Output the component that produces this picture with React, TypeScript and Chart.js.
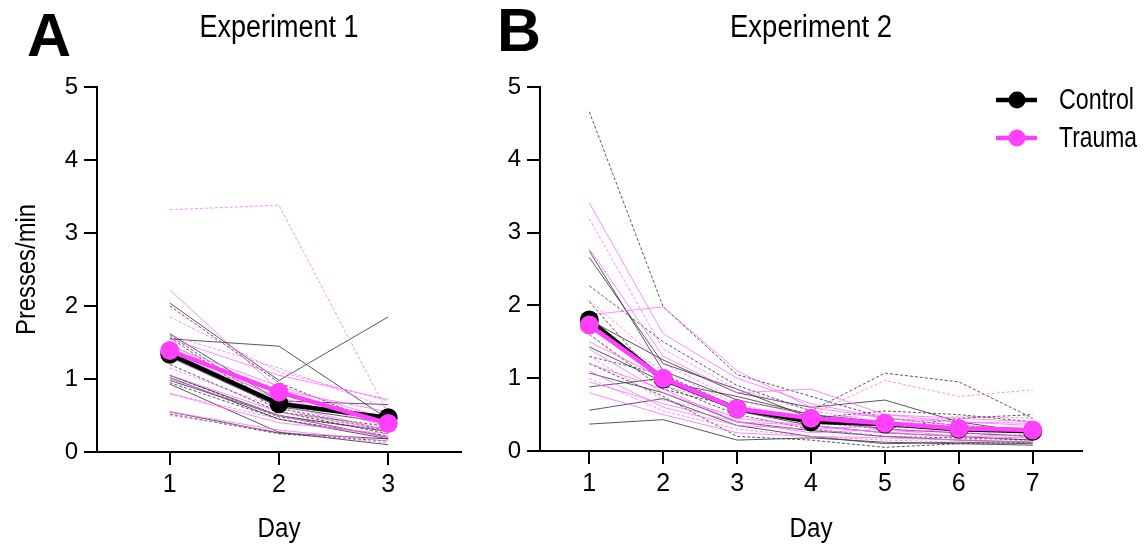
import React, { useEffect, useRef } from "react";
import { Chart, registerables } from "chart.js";
Chart.register(...registerables);

const FONT = "'Liberation Sans', Arial, sans-serif";

// ---------- Data ----------
const days1 = [1, 2, 3];
const days2 = [1, 2, 3, 4, 5, 6, 7];
const yTicks = [0, 1, 2, 3, 4, 5];

const exp1ControlMean = [1.34, 0.66, 0.47];
const exp1TraumaMean = [1.39, 0.82, 0.39];
const exp2ControlMean = [1.8, 0.99, 0.58, 0.4, 0.37, 0.3, 0.27];
const exp2TraumaMean = [1.73, 1.0, 0.58, 0.45, 0.38, 0.31, 0.29];

const exp1ControlSolid = [
  [1.55, 1.45, 0.45],
  [2.04, 0.98, 1.85],
  [1.62, 0.7, 0.65],
  [1.05, 0.5, 0.2],
  [1.02, 0.45, 0.18],
  [0.93, 0.27, 0.1],
  [0.55, 0.26, 0.18],
  [1.3, 0.62, 0.4],
  [0.98, 0.5, 0.28],
];
const exp1ControlDashed = [
  [2.0, 0.95, 0.35],
  [1.6, 0.6, 0.3],
  [1.57, 0.55, 0.25],
  [1.05, 0.48, 0.3],
  [0.95, 0.45, 0.22],
  [0.52, 0.25, 0.15],
  [1.2, 0.55, 0.35],
];
const exp1TraumaSolid = [
  [2.22, 0.85, 0.55],
  [1.55, 1.05, 0.72],
  [1.45, 0.9, 0.45],
  [1.35, 0.75, 0.35],
  [1.3, 0.65, 0.3],
  [1.05, 0.55, 0.3],
  [1.0, 0.5, 0.2],
  [0.8, 0.4, 0.25],
  [0.55, 0.3, 0.15],
  [1.48, 0.7, 0.45],
];
const exp1TraumaDashed = [
  [3.32, 3.38, 0.53],
  [1.85, 1.1, 0.7],
  [1.6, 1.15, 0.6],
  [1.4, 0.8, 0.4],
  [1.15, 0.6, 0.25],
  [0.8, 0.45, 0.2],
  [0.5, 0.28, 0.12],
];

const exp2ControlSolid = [
  [2.75, 1.1, 0.7, 0.5, 0.4, 0.3, 0.25],
  [2.66, 1.2, 0.85, 0.45, 0.3, 0.25, 0.2],
  [1.8, 1.25, 0.8, 0.6, 0.7, 0.4, 0.25],
  [1.43, 0.95, 0.75, 0.5, 0.35, 0.3, 0.28],
  [1.07, 0.8, 0.4, 0.28, 0.2, 0.15, 0.12],
  [0.88, 1.0, 0.55, 0.35, 0.25, 0.2, 0.15],
  [0.56, 0.72, 0.35, 0.2, 0.1, 0.12, 0.1],
  [0.37, 0.43, 0.15, 0.18, 0.12, 0.1, 0.08],
];
const exp2ControlDashed = [
  [4.66, 1.98, 1.05, 0.75, 0.45, 0.35, 0.3],
  [2.27, 1.5, 0.9, 0.55, 1.07, 0.95, 0.45],
  [2.05, 0.9, 0.5, 0.3, 0.2, 0.18, 0.15],
  [1.3, 1.05, 0.6, 0.4, 0.3, 0.45, 0.5],
  [1.6, 0.85, 0.6, 0.45, 0.55, 0.5, 0.4],
  [1.2, 0.75, 0.2, 0.15, 0.05, 0.1, 0.12],
];
const exp2TraumaSolid = [
  [3.41, 1.61, 1.0, 0.65, 0.45, 0.35, 0.3],
  [2.78, 1.3, 0.8, 0.85, 0.5, 0.4, 0.35],
  [1.87, 1.98, 1.1, 0.6, 0.45, 0.4, 0.38],
  [1.5, 1.0, 0.55, 0.45, 0.5, 0.45, 0.4],
  [1.4, 0.8, 0.45, 0.35, 0.25, 0.3, 0.25],
  [1.2, 0.85, 0.4, 0.25, 0.3, 0.2, 0.18],
  [1.1, 0.6, 0.35, 0.3, 0.35, 0.28, 0.3],
  [0.95, 0.65, 0.4, 0.35, 0.25, 0.2, 0.22],
  [0.8, 0.5, 0.25, 0.2, 0.18, 0.15, 0.12],
];
const exp2TraumaDashed = [
  [3.19, 1.4, 0.85, 0.55, 0.4, 0.3, 0.25],
  [2.07, 1.2, 0.7, 0.5, 0.97, 0.75, 0.84],
  [1.6, 0.9, 0.6, 0.4, 0.3, 0.25, 0.22],
  [1.3, 0.7, 0.5, 0.3, 0.2, 0.15, 0.2],
  [1.0, 0.55, 0.3, 0.2, 0.15, 0.12, 0.15],
  [1.75, 1.1, 0.65, 0.4, 0.35, 0.48, 0.45],
];

const legendLabels = ["Control", "Trauma"];
const xTitle = "Day";
const yTitleText = "Presses/min";

// ---------- Styles ----------
const CONTROL_COLOR = "#000000";
const TRAUMA_COLOR = "#FF40FF";
const GRAY_THIN = "rgba(60,60,60,0.85)";
const PINK_THIN = "rgba(255,100,255,0.75)";

function toPts(days: number[], vals: number[]) {
  return days.map((d, i) => ({ x: d, y: vals[i] }));
}

function thinSets(days: number[], rows: number[][], color: string, dashed: boolean) {
  return rows.map((r) => ({
    type: "line" as const,
    data: toPts(days, r),
    borderColor: color,
    borderWidth: 1,
    borderDash: dashed ? [3, 2] : [],
    pointRadius: 0,
    fill: false,
    order: 5,
  }));
}

function meanSet(days: number[], vals: number[], color: string, order: number) {
  return {
    type: "line" as const,
    data: toPts(days, vals),
    borderColor: color,
    backgroundColor: color,
    borderWidth: 4.5,
    pointRadius: 9.5,
    pointBackgroundColor: color,
    pointBorderWidth: 0,
    fill: false,
    clip: false,
    order,
  };
}

type PanelCfg = {
  width: number;
  left: number;
  areaLeft: number;
  areaRight: number;
  areaBottom: number;
  days: number[];
  controlSolid: number[][];
  controlDashed: number[][];
  traumaSolid: number[][];
  traumaDashed: number[][];
  controlMean: number[];
  traumaMean: number[];
  title: string;
  titleWidth: number;
  letter: string;
  letterX: number;
  letterBaseline: number;
  yTitle: string | null;
  legend: boolean;
};

const H = 546;
const AREA_TOP = 87;

function Panel({ cfg }: { cfg: PanelCfg }) {
  const ref = useRef<HTMLCanvasElement | null>(null);
  useEffect(() => {
    if (!ref.current) return;
    const decor = {
      id: "decor",
      afterDraw(chart: any) {
        const ctx = chart.ctx;
        const ca = chart.chartArea;
        const cx = (ca.left + ca.right) / 2;
        ctx.save();
        ctx.fillStyle = "#000";
        ctx.textBaseline = "alphabetic";
        // panel title (condensed via maxWidth)
        ctx.font = `31px ${FONT}`;
        ctx.textAlign = "center";
        ctx.fillText(cfg.title, cx, 37, cfg.titleWidth);
        // x axis title
        ctx.font = `28px ${FONT}`;
        ctx.fillText(xTitle, cx, 537, 43);
        // y axis title
        if (cfg.yTitle) {
          ctx.save();
          ctx.translate(35, (ca.top + ca.bottom) / 2);
          ctx.rotate(-Math.PI / 2);
          ctx.font = `28px ${FONT}`;
          ctx.textAlign = "center";
          ctx.fillText(cfg.yTitle, 0, 0, 131);
          ctx.restore();
        }
        // panel letter
        ctx.font = `bold 61px ${FONT}`;
        ctx.textAlign = "left";
        ctx.fillText(cfg.letter, cfg.letterX, cfg.letterBaseline);
        if (cfg.legend) {
          const items = [
            { label: legendLabels[0], color: CONTROL_COLOR, y: 100, w: 75 },
            { label: legendLabels[1], color: TRAUMA_COLOR, y: 138, w: 78 },
          ];
          const lx = 996 - cfg.left;
          items.forEach((it) => {
            ctx.strokeStyle = it.color;
            ctx.lineWidth = 4.5;
            ctx.beginPath();
            ctx.moveTo(lx, it.y);
            ctx.lineTo(lx + 41, it.y);
            ctx.stroke();
            ctx.fillStyle = it.color;
            ctx.beginPath();
            ctx.arc(lx + 21, it.y, 8.5, 0, Math.PI * 2);
            ctx.fill();
            ctx.fillStyle = "#000";
            ctx.font = `29px ${FONT}`;
            ctx.textAlign = "left";
            ctx.fillText(it.label, 1059 - cfg.left, it.y + 9, it.w);
          });
        }
        ctx.restore();
      },
    };
    const d = cfg.days;
    const chart = new Chart(ref.current, {
      type: "line",
      data: {
        datasets: [
          meanSet(d, cfg.traumaMean, TRAUMA_COLOR, 0),
          meanSet(d, cfg.controlMean, CONTROL_COLOR, 1),
          ...thinSets(d, cfg.traumaSolid, PINK_THIN, false),
          ...thinSets(d, cfg.traumaDashed, PINK_THIN, true),
          ...thinSets(d, cfg.controlSolid, GRAY_THIN, false),
          ...thinSets(d, cfg.controlDashed, GRAY_THIN, true),
        ] as any,
      },
      options: {
        responsive: false,
        animation: false,
        events: [],
        layout: {
          padding: { left: 0, top: AREA_TOP, right: cfg.width - cfg.areaRight, bottom: 0 },
        },
        plugins: {
          legend: { display: false },
          tooltip: { enabled: false },
          title: { display: false },
        },
        scales: {
          x: {
            type: "linear",
            min: d[0] - 0.667,
            max: d[d.length - 1] + 0.667,
            afterBuildTicks: (s: any) => {
              s.ticks = d.map((v) => ({ value: v }));
            },
            afterFit: (s: any) => {
              s.height = H - cfg.areaBottom;
            },
            grid: { drawOnChartArea: false, drawTicks: true, tickLength: 13, color: "#000", lineWidth: 2 },
            border: { display: true, color: "#000", width: 2 },
            ticks: {
              font: { family: FONT, size: 25 },
              color: "#000",
              padding: 5,
              maxRotation: 0,
              autoSkip: false,
              callback: (v: any) => String(v),
            },
            title: { display: false },
          },
          y: {
            type: "linear",
            min: 0,
            max: 5,
            afterBuildTicks: (s: any) => {
              s.ticks = yTicks.map((v) => ({ value: v }));
            },
            afterFit: (s: any) => {
              s.width = cfg.areaLeft;
            },
            grid: { drawOnChartArea: false, drawTicks: true, tickLength: 13, color: "#000", lineWidth: 2 },
            border: { display: true, color: "#000", width: 2 },
            ticks: {
              font: { family: FONT, size: 24 },
              color: "#000",
              padding: 6,
              callback: (v: any) => String(v),
            },
            title: { display: false },
          },
        },
      } as any,
      plugins: [decor],
    });
    return () => chart.destroy();
  }, [cfg]);
  return (
    <canvas
      ref={ref}
      width={cfg.width}
      height={H}
      style={{ position: "absolute", left: cfg.left, top: 0, width: cfg.width, height: H }}
    />
  );
}

const panelA: PanelCfg = {
  width: 490,
  left: 0,
  areaLeft: 97,
  areaRight: 461,
  areaBottom: 452,
  days: days1,
  controlSolid: exp1ControlSolid,
  controlDashed: exp1ControlDashed,
  traumaSolid: exp1TraumaSolid,
  traumaDashed: exp1TraumaDashed,
  controlMean: exp1ControlMean,
  traumaMean: exp1TraumaMean,
  title: "Experiment 1",
  titleWidth: 159,
  letter: "A",
  letterX: 27,
  letterBaseline: 56,
  yTitle: yTitleText,
  legend: false,
};

const panelB: PanelCfg = {
  width: 656,
  left: 490,
  areaLeft: 50,
  areaRight: 592,
  areaBottom: 451,
  days: days2,
  controlSolid: exp2ControlSolid,
  controlDashed: exp2ControlDashed,
  traumaSolid: exp2TraumaSolid,
  traumaDashed: exp2TraumaDashed,
  controlMean: exp2ControlMean,
  traumaMean: exp2TraumaMean,
  title: "Experiment 2",
  titleWidth: 162,
  letter: "B",
  letterX: 7,
  letterBaseline: 51,
  yTitle: null,
  legend: true,
};

export default function App() {
  return (
    <div style={{ position: "fixed", left: 0, top: 0, width: 1146, height: H, background: "#fff", overflow: "hidden" }}>
      <Panel cfg={panelA} />
      <Panel cfg={panelB} />
    </div>
  );
}
